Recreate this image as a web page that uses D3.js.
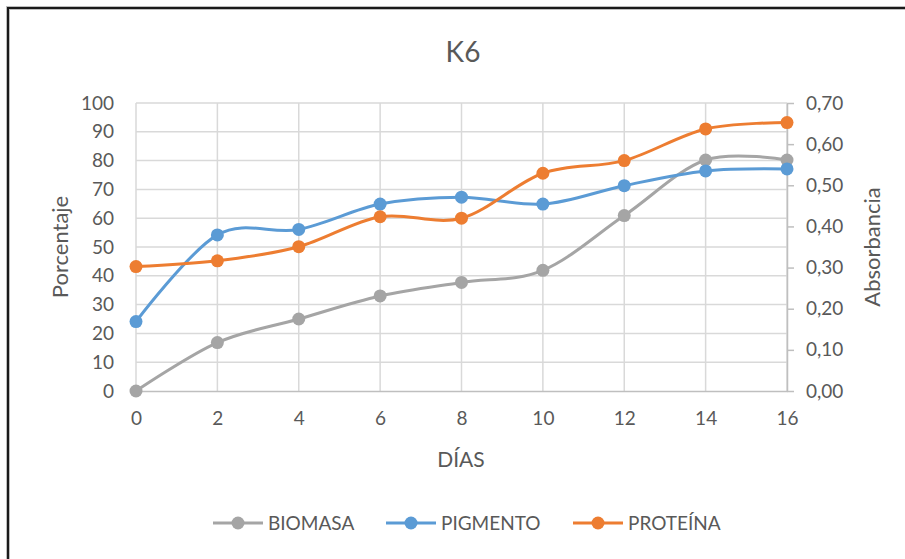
<!DOCTYPE html>
<html>
<head>
<meta charset="utf-8">
<script src="https://cdn.jsdelivr.net/npm/d3@7"></script>
<style>
  html, body { margin: 0; padding: 0; background: #fff; }
  svg { display: block; font-family: Lato, "Open Sans", sans-serif; }
</style>
</head>
<body>
<svg id="chart" width="905" height="559"></svg>
<script>
// Days of sampling
const dias = [0, 2, 4, 6, 8, 10, 12, 14, 16];
// Series values (percent, left axis)
const biomasa  = [0, 16.8, 25, 33, 37.7, 41.9, 60.9, 80.2, 80.2];
const pigmento = [24.1, 54.2, 56.1, 64.9, 67.3, 64.9, 71.3, 76.4, 77.1];
const proteina = [43.2, 45.2, 50.1, 60.5, 60.0, 75.6, 80.0, 91.0, 93.2];
// Axis tick labels
const xTicks = [0, 2, 4, 6, 8, 10, 12, 14, 16];
const yLeftTicks = [0, 10, 20, 30, 40, 50, 60, 70, 80, 90, 100];
const yRightTicks = [0, 0.1, 0.2, 0.3, 0.4, 0.5, 0.6, 0.7];

const seriesNames = ["BIOMASA", "PIGMENTO", "PROTEÍNA"];
const seriesValues = [biomasa, pigmento, proteina];
const seriesColors = ["#A5A5A5", "#5B9BD5", "#ED7D31"];

const svg = d3.select("#chart");
const textColor = "#595959";

// Outer chart frame
svg.append("rect")
  .attr("x", 8).attr("y", 8)
  .attr("width", 1000).attr("height", 1000)
  .attr("fill", "none")
  .attr("stroke", "#bdbdbd").attr("stroke-width", 4);
svg.append("rect")
  .attr("x", 8).attr("y", 8)
  .attr("width", 1000).attr("height", 1000)
  .attr("fill", "none")
  .attr("stroke", "#1a1a1a").attr("stroke-width", 2);

const x = d3.scaleLinear().domain([0, 16]).range([136, 787]);
const y = d3.scaleLinear().domain([0, 100]).range([391, 103]);
const yR = d3.scaleLinear().domain([0, 0.7]).range([391, 103]);

// Title
svg.append("text")
  .attr("x", 463).attr("y", 62)
  .attr("text-anchor", "middle")
  .attr("font-size", 28)
  .attr("fill", textColor)
  .text("K6");

// Gridlines
const grid = svg.append("g");
grid.selectAll("line.h").data(yLeftTicks.slice(1)).join("line")
  .attr("x1", x(0)).attr("x2", x(16))
  .attr("y1", d => y(d)).attr("y2", d => y(d))
  .attr("stroke", "#D9D9D9").attr("stroke-width", 1.5);
grid.selectAll("line.v").data(xTicks).join("line")
  .attr("x1", d => x(d)).attr("x2", d => x(d))
  .attr("y1", y(0)).attr("y2", y(100))
  .attr("stroke", "#D9D9D9").attr("stroke-width", 1.5);

// Bottom axis
const xAxis = svg.append("g")
  .attr("transform", `translate(0,${y(0)})`)
  .call(d3.axisBottom(x).tickValues(xTicks).tickSize(0).tickPadding(21).tickFormat(d3.format("d")));
xAxis.select(".domain").attr("stroke", "#BFBFBF").attr("stroke-width", 1.5);
xAxis.selectAll("text").attr("font-size", 19).attr("fill", textColor).attr("font-family", "Lato");

// Left axis
const yAxis = svg.append("g")
  .attr("transform", `translate(${x(0)},0)`)
  .call(d3.axisLeft(y).tickValues(yLeftTicks).tickSize(0).tickPadding(22).tickFormat(d3.format("d")));
yAxis.select(".domain").remove();
yAxis.selectAll("text").attr("font-size", 19).attr("fill", textColor).attr("font-family", "Lato");

// Right axis
const fmtR = d => d3.format(".2f")(d).replace(".", ",");
const yAxisR = svg.append("g")
  .attr("transform", `translate(${x(16)},0)`)
  .call(d3.axisRight(yR).tickValues(yRightTicks).tickSizeInner(7).tickSizeOuter(0).tickPadding(12).tickFormat(fmtR));
yAxisR.select(".domain").attr("stroke", "#BFBFBF").attr("stroke-width", 1.5);
yAxisR.selectAll(".tick line").attr("stroke", "#BFBFBF").attr("stroke-width", 1.5);
yAxisR.selectAll("text").attr("font-size", 19).attr("fill", textColor).attr("font-family", "Lato");

// Axis titles
svg.append("text")
  .attr("transform", "translate(68,247) rotate(-90)")
  .attr("text-anchor", "middle")
  .attr("font-size", 22).attr("fill", textColor)
  .text("Porcentaje");
svg.append("text")
  .attr("transform", "translate(880,247) rotate(-90)")
  .attr("text-anchor", "middle")
  .attr("font-size", 22).attr("fill", textColor)
  .text("Absorbancia");
svg.append("text")
  .attr("x", 461).attr("y", 467)
  .attr("text-anchor", "middle")
  .attr("font-size", 21).attr("fill", textColor)
  .text("DÍAS");

// Series lines and markers
const line = d3.line()
  .x((d, i) => x(dias[i]))
  .y(d => y(d))
  .curve(d3.curveCardinal.tension(0));

const plot = svg.append("g");
seriesValues.forEach((vals, k) => {
  plot.append("path")
    .attr("d", line(vals))
    .attr("fill", "none")
    .attr("stroke", seriesColors[k])
    .attr("stroke-width", 3)
    .attr("stroke-linecap", "round");
  plot.selectAll(null).data(vals).join("circle")
    .attr("cx", (d, i) => x(dias[i]))
    .attr("cy", d => y(d))
    .attr("r", 6.5)
    .attr("fill", seriesColors[k]);
});

// Legend
const legendX = [213, 386, 573];
const legend = svg.append("g");
seriesNames.forEach((name, k) => {
  const g = legend.append("g").attr("transform", `translate(${legendX[k]},523)`);
  g.append("line").attr("x1", 0).attr("x2", 50).attr("y1", 0).attr("y2", 0)
    .attr("stroke", seriesColors[k]).attr("stroke-width", 3);
  g.append("circle").attr("cx", 25).attr("cy", 0).attr("r", 6.5).attr("fill", seriesColors[k]);
  g.append("text").attr("x", 55).attr("y", 7)
    .attr("font-size", 19).attr("fill", textColor)
    .text(name);
});
</script>
</body>
</html>
